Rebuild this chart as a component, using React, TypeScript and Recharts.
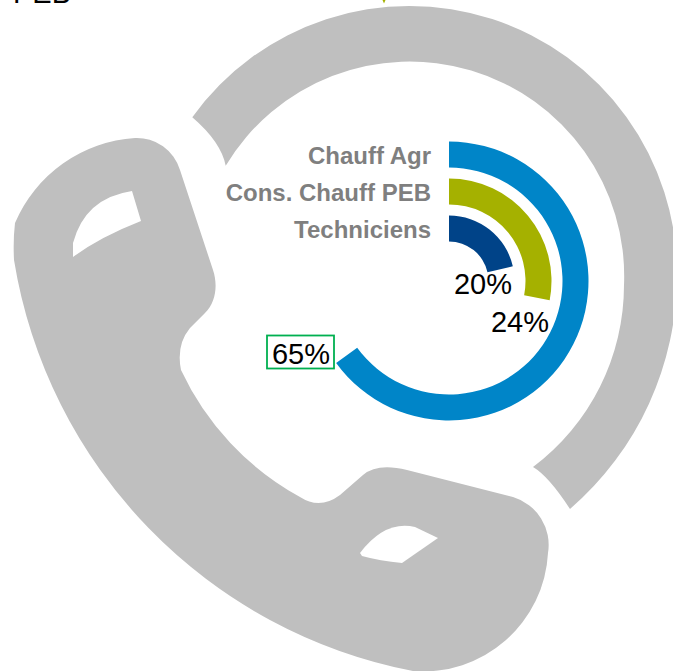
import React from "react";
import {
  RadialBarChart,
  RadialBar,
  PolarAngleAxis,
  PolarRadiusAxis,
  LabelList,
} from "recharts";

// inner ring first
const categories = ["Techniciens", "Cons. Chauff PEB", "Chauff Agr"];
// the rings are drawn longer than the printed percentages for two of them
const drawnValues = [21.4, 28, 65];
const valueLabels = ["20%", "24%", "65%"];
const barColors = ["#004388", "#A5B100", "#0085C8"];

const data = categories.map((name, i) => ({
  name,
  value: drawnValues[i],
  label: valueLabels[i],
  fill: barColors[i],
}));

const WIDTH = 673;
const HEIGHT = 671;
const CX = 449;
const CY = 281;

const LABEL_POS: Record<string, { x: number; y: number }> = {
  "20%": { x: 483, y: 294 },
  "24%": { x: 520, y: 332 },
  "65%": { x: 301, y: 364 },
};

// phone icon behind the chart
const WAVE_PATH =
  "M192.3,117.3 A267.5,267.5 0 0 1 677,275 A309,309 0 0 1 570,509 Q548.5,476 533,467 " +
  "A227.5,227.5 0 0 0 624,285 A214.5,214.5 0 0 0 225.7,165.7 Q221,142 192.3,117.3 Z";
const HANDSET_PATH =
  "M15,223 A140,140 0 0 1 135,138 A45,45 0 0 1 180,170 L213,270 C218,285 216,302 205,313 L190,328 " +
  "Q176,345 181,370 A280,280 0 0 0 300,497 Q320,510 340,495 L363,475 Q377.3,462.6 407,470 L513,497 " +
  "A50,50 0 0 1 548,553 A125,125 0 0 1 413,671 A500,500 0 0 1 14,260 Q13,240 15,223 Z";
const UPPER_HOLE = "M132,191 L141,221 Q100,237 73,257 L73,243 Q85,198 132,191 Z";
const LOWER_HOLE = "M438,538 L415,527 Q385,520 360,553 L362,556 Q380,561 402,563 Z";

const CategoryTick = ({ x, y, payload }: any) => (
  <text
    x={x - 18}
    y={y + 9}
    textAnchor="end"
    fontFamily="Liberation Sans"
    fontWeight="bold"
    fontSize={24}
    fill="#7F7F7F"
  >
    {payload.value}
  </text>
);

const ValueLabel = ({ value }: any) => {
  const pos = LABEL_POS[value];
  if (!pos) return null;
  return (
    <g>
      {value === "65%" && (
        <rect x={267} y={335.5} width={67} height={33} fill="#fff" stroke="#00B050" strokeWidth={1.8} />
      )}
      <text x={pos.x} y={pos.y} textAnchor="middle" fontFamily="Liberation Sans" fontSize={29} fill="#000">
        {value}
      </text>
    </g>
  );
};

export default function App() {
  return (
    <div style={{ position: "absolute", left: 0, top: 0, width: WIDTH, height: HEIGHT, overflow: "hidden", background: "#fff" }}>
      <svg width={WIDTH} height={HEIGHT} style={{ position: "absolute", left: 0, top: 0 }}>
        <path d={WAVE_PATH} fill="#BFBFBF" />
        <path d={HANDSET_PATH} fill="#BFBFBF" />
        <path d={UPPER_HOLE} fill="#fff" />
        <path d={LOWER_HOLE} fill="#fff" />
        <polygon points="382.5,0 385.5,0 384,3.5" fill="#A5B100" />
        <text x={13} y={3} fontFamily="Liberation Sans" fontSize={29} fill="#000">PEB</text>
      </svg>
      <div style={{ position: "absolute", left: 0, top: 0 }}>
        <RadialBarChart
          width={WIDTH}
          height={HEIGHT}
          data={data}
          cx={CX}
          cy={CY}
          innerRadius={33.5}
          outerRadius={144.5}
          startAngle={90}
          endAngle={-270}
          barSize={26}
          margin={{ top: 0, right: 0, bottom: 0, left: 0 }}
        >
          <PolarAngleAxis type="number" domain={[0, 100]} tick={false} axisLine={false} />
          <PolarRadiusAxis
            type="category"
            dataKey="name"
            angle={90}
            axisLine={false}
            tickLine={false}
            tick={CategoryTick}
          />
          <RadialBar dataKey="value" isAnimationActive={false}>
            <LabelList dataKey="label" content={ValueLabel} />
          </RadialBar>
        </RadialBarChart>
      </div>
    </div>
  );
}
